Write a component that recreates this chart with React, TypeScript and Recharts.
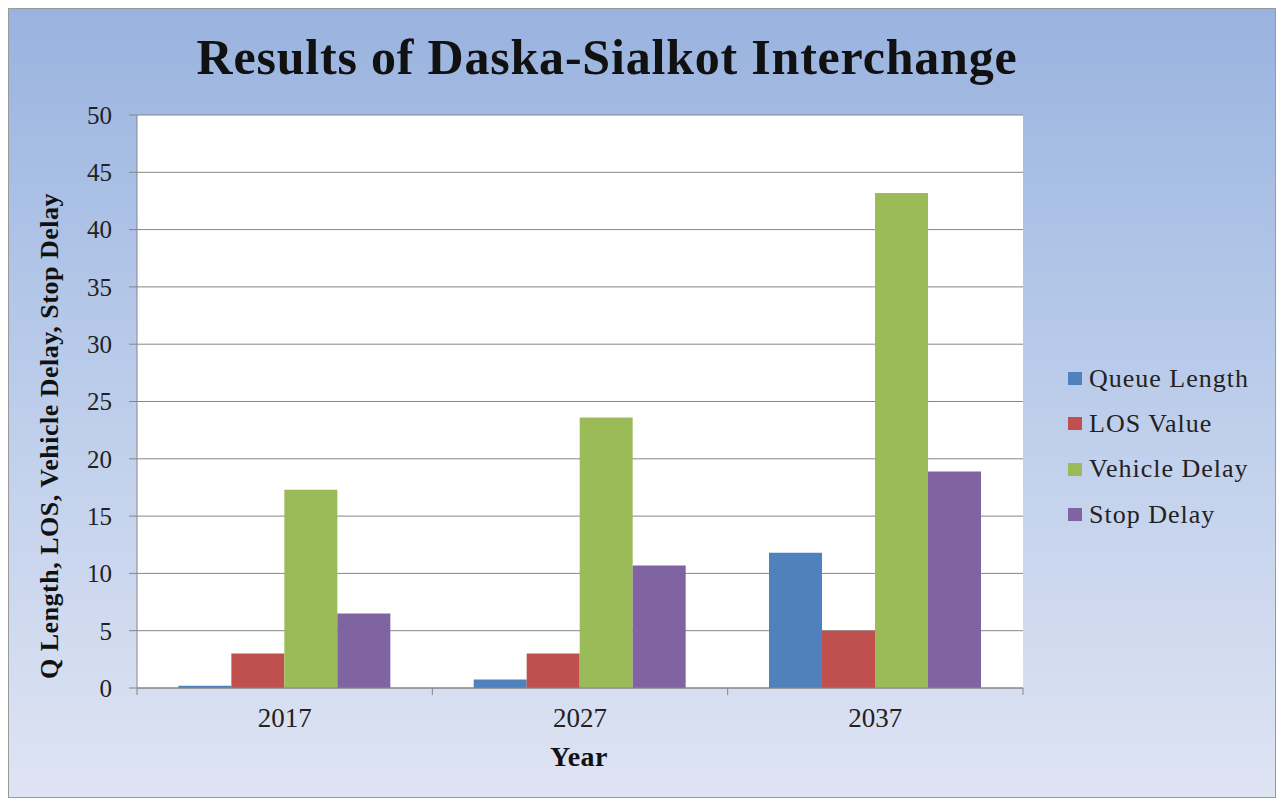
import { Bar, BarChart, CartesianGrid, XAxis, YAxis } from "recharts";

const YEARS = ["2017", "2027", "2037"];
const QUEUE_LENGTH = [0.2, 0.75, 11.8];
const LOS_VALUE = [3, 3, 5];
const VEHICLE_DELAY = [17.3, 23.6, 43.2];
const STOP_DELAY = [6.5, 10.7, 18.9];
const Y_TICKS = [0, 5, 10, 15, 20, 25, 30, 35, 40, 45, 50];

const SERIES = [
  { key: "queue", name: "Queue Length", color: "#4f81bd", values: QUEUE_LENGTH },
  { key: "los", name: "LOS Value", color: "#c0504d", values: LOS_VALUE },
  { key: "vehicle", name: "Vehicle Delay", color: "#9bbb59", values: VEHICLE_DELAY },
  { key: "stop", name: "Stop Delay", color: "#8064a2", values: STOP_DELAY },
];

const FONT = '"Liberation Serif", "Times New Roman", serif';
const AXIS = "#868686";
const TICK_SIZE = 6;
const TICK_MARGIN = 14;

const data = YEARS.map((year, i) => {
  const row: Record<string, any> = { year };
  SERIES.forEach((s) => (row[s.key] = s.values[i]));
  return row;
});

// year label plus the Excel-style tick marks between categories
function YearTick({ x, y, payload, index, visibleTicksCount }: any) {
  const half = payload?.offset ?? 0;
  const axisY = y - TICK_SIZE - TICK_MARGIN;
  const last = index === (visibleTicksCount ?? YEARS.length) - 1;
  return (
    <g>
      <line x1={x - half} x2={x - half} y1={axisY} y2={axisY + 7} stroke={AXIS} />
      {last && <line x1={x + half} x2={x + half} y1={axisY} y2={axisY + 7} stroke={AXIS} />}
      <text x={x} y={y} dy="0.71em" textAnchor="middle" fill="#222" fontSize={27} fontFamily={FONT}>
        {payload.value}
      </text>
    </g>
  );
}

export default function App() {
  return (
    <div
      style={{
        position: "relative",
        width: 1268,
        height: 790,
        background: "linear-gradient(to bottom, #99b3df 0%, #b9cbea 45%, #dfe4f3 100%)",
        outline: "1px solid #9a9a9a",
        outlineOffset: -1,
        fontFamily: FONT,
      }}
    >
      <div
        style={{
          position: "absolute",
          left: 0,
          width: 1198,
          top: 20,
          textAlign: "center",
          fontSize: 50,
          letterSpacing: 0.8,
          fontWeight: "bold",
          color: "#111",
        }}
      >
        Results of Daska-Sialkot Interchange
      </div>

      <BarChart
        width={1268}
        height={790}
        data={data}
        margin={{ top: 107, right: 253, left: 69, bottom: 65 }}
        barCategoryGap="14%"
        barGap={0}
        style={{ position: "absolute", left: 0, top: 0 }}
      >
        <CartesianGrid vertical={false} stroke={AXIS} fill="#ffffff" />
        <XAxis
          dataKey="year"
          height={45}
          axisLine={{ stroke: AXIS }}
          tickLine={false}
          tickSize={TICK_SIZE}
          tickMargin={TICK_MARGIN}
          interval={0}
          tick={(p: any) => <YearTick {...p} />}
        />
        <YAxis
          width={60}
          domain={[0, 50]}
          ticks={Y_TICKS}
          interval={0}
          axisLine={{ stroke: AXIS }}
          tickLine={{ stroke: AXIS }}
          tickSize={8}
          tickMargin={17}
          tick={{ fill: "#222", fontSize: 25, fontFamily: FONT }}
        />
        {SERIES.map((s) => (
          <Bar key={s.key} dataKey={s.key} name={s.name} fill={s.color} isAnimationActive={false} />
        ))}
      </BarChart>

      <div
        style={{
          position: "absolute",
          left: 42,
          top: 428,
          transform: "translate(-50%, -50%) rotate(-90deg)",
          whiteSpace: "nowrap",
          fontSize: 26,
          letterSpacing: 0.5,
          fontWeight: "bold",
          color: "#111",
        }}
      >
        Q Length, LOS, Vehicle Delay, Stop Delay
      </div>

      <div
        style={{
          position: "absolute",
          left: 571,
          top: 749,
          transform: "translate(-50%, -50%)",
          fontSize: 28,
          letterSpacing: 0.5,
          fontWeight: "bold",
          color: "#111",
        }}
      >
        Year
      </div>

      <div style={{ position: "absolute", left: 1060, top: 348 }}>
        {SERIES.map((s) => (
          <div
            key={s.key}
            style={{ display: "flex", alignItems: "center", height: 45.3, fontSize: 26, letterSpacing: 1, color: "#222", whiteSpace: "nowrap" }}
          >
            <span style={{ width: 14, height: 13, background: s.color, marginRight: 7, flexShrink: 0 }} />
            {s.name}
          </div>
        ))}
      </div>
    </div>
  );
}
